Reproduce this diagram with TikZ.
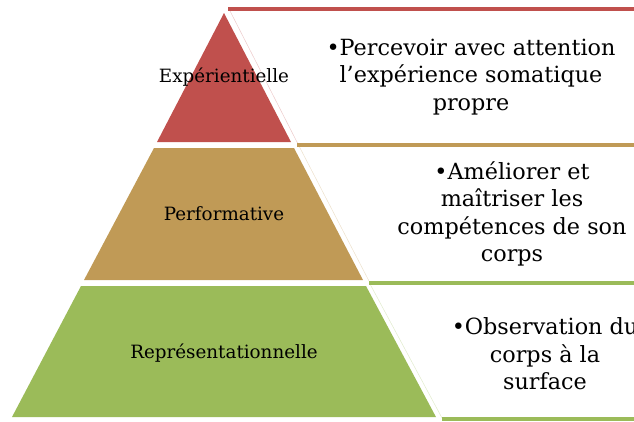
\documentclass[tikz,border=0pt]{standalone}
\usepackage{fontspec}
\setmainfont{DejaVu Serif}
\definecolor{layerred}{RGB}{192,80,77}
\definecolor{layertan}{RGB}{192,154,86}
\definecolor{layergreen}{RGB}{155,187,89}
\tikzset{
  bar/.style={line width=4pt},
  rim/.style={line width=0.5pt},
  lbl/.style={inner sep=0pt,font=\fontsize{18.3}{20}\selectfont},
  txt/.style={inner sep=0pt,align=center,font=\fontsize{22.3}{27.5}\selectfont},
}
\begin{document}
\begin{tikzpicture}[x=1pt,y=-1pt]
\useasboundingbox (0,0) rectangle (634,421);

% pyramid
\fill[layerred] (224,13) -- (291,142) -- (157,142) -- cycle;
\fill[layertan] (154,148) -- (294,148) -- (363,280) -- (84,280) -- cycle;
\fill[layergreen] (81,286) -- (366,286) -- (436,417) -- (12,417) -- cycle;

% text boxes
\draw[rim,layerred!30] (229,9) -- (298,144);
\draw[rim,layertan!30] (299,146) -- (369,281);
\draw[rim,layergreen!30] (370,284) -- (442,418);
\draw[bar,layerred] (228,8.5) -- (634,8.5);
\draw[bar,layertan] (297,145) -- (634,145);
\draw[bar,layergreen] (369,282.5) -- (634,282.5);
\draw[bar,layergreen] (442,418.5) -- (634,418.5);

\node[lbl] (exp) at (224,77) {Expérientielle};
\node[lbl] (perf) at (224,214) {Performative};
\node[lbl] (repr) at (224,353) {Représentationnelle};

\node[txt] (exptxt) at (471,77) {•Percevoir avec attention\\l’expérience somatique\\propre};
\node[txt] (perftxt) at (512,214) {•Améliorer et\\maîtriser les\\compétences de son\\corps};
\node[txt] (reprtxt) at (545,354) {•Observation du\\corps à la\\surface};
\end{tikzpicture}
\end{document}
